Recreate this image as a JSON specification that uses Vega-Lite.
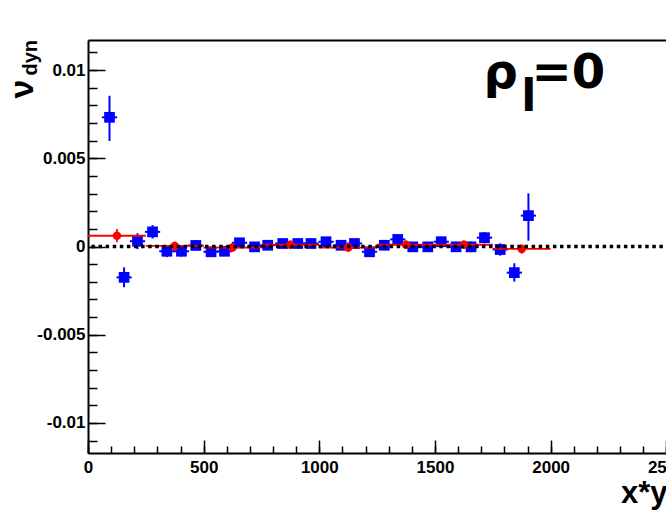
{
  "$schema": "https://vega.github.io/schema/vega-lite/v6.json",
  "width": 582,
  "height": 413,
  "autosize": {"type": "none"},
  "padding": {"left": 88, "top": 40, "right": -4, "bottom": 57},
  "background": "white",
  "view": {"stroke": "transparent", "strokeWidth": 0},
  "config": {
    "view": {"stroke": "transparent", "strokeWidth": 0},
    "axis": {
      "grid": false,
      "labelFont": "Liberation Sans",
      "labelFontWeight": "bold",
      "labelFontSize": 17,
      "labelColor": "black",
      "tickColor": "black",
      "tickWidth": 1.5,
      "domainColor": "black",
      "domainWidth": 2,
      "titleFont": "Liberation Sans",
      "titleFontWeight": "bold",
      "titleColor": "black",
      "labelFlush": false,
      "labelOverlap": false,
      "labelBound": false
    }
  },
  "datasets": {
    "blue": [
      {"x": 93, "xlo": 60, "xhi": 126, "y": 0.00732, "ylo": 0.00598, "yhi": 0.00854},
      {"x": 156, "xlo": 123, "xhi": 189, "y": -0.00175, "ylo": -0.00231, "yhi": -0.00118},
      {"x": 214, "xlo": 181, "xhi": 247, "y": 0.0003, "ylo": -0.00015, "yhi": 0.00075},
      {"x": 279, "xlo": 246, "xhi": 312, "y": 0.00083, "ylo": 0.00045, "yhi": 0.00121},
      {"x": 341, "xlo": 308, "xhi": 374, "y": -0.00027, "ylo": -0.0006, "yhi": 0.00006},
      {"x": 404, "xlo": 371, "xhi": 437, "y": -0.00027, "ylo": -0.00057, "yhi": 0.00003},
      {"x": 466, "xlo": 433, "xhi": 499, "y": 0.00006, "ylo": -0.00022, "yhi": 0.00034},
      {"x": 532, "xlo": 499, "xhi": 565, "y": -0.0003, "ylo": -0.00058, "yhi": -0.00002},
      {"x": 590, "xlo": 557, "xhi": 623, "y": -0.00027, "ylo": -0.00053, "yhi": -0.00001},
      {"x": 655, "xlo": 622, "xhi": 688, "y": 0.00021, "ylo": -0.00005, "yhi": 0.00047},
      {"x": 720, "xlo": 687, "xhi": 753, "y": -0.00002, "ylo": -0.00027, "yhi": 0.00023},
      {"x": 777, "xlo": 744, "xhi": 810, "y": 0.00007, "ylo": -0.00017, "yhi": 0.00031},
      {"x": 842, "xlo": 809, "xhi": 875, "y": 0.00017, "ylo": -0.00007, "yhi": 0.00041},
      {"x": 907, "xlo": 874, "xhi": 940, "y": 0.00017, "ylo": -0.00007, "yhi": 0.00041},
      {"x": 964, "xlo": 931, "xhi": 997, "y": 0.00017, "ylo": -0.00007, "yhi": 0.00041},
      {"x": 1029, "xlo": 996, "xhi": 1062, "y": 0.00027, "ylo": 0.00003, "yhi": 0.00051},
      {"x": 1094, "xlo": 1061, "xhi": 1127, "y": 0.00007, "ylo": -0.00017, "yhi": 0.00031},
      {"x": 1152, "xlo": 1119, "xhi": 1185, "y": 0.00017, "ylo": -0.00007, "yhi": 0.00041},
      {"x": 1217, "xlo": 1184, "xhi": 1250, "y": -0.0003, "ylo": -0.00055, "yhi": -0.00005},
      {"x": 1281, "xlo": 1248, "xhi": 1314, "y": 0.00007, "ylo": -0.00018, "yhi": 0.00032},
      {"x": 1339, "xlo": 1306, "xhi": 1372, "y": 0.0004, "ylo": 0.00014, "yhi": 0.00066},
      {"x": 1404, "xlo": 1371, "xhi": 1437, "y": -0.00002, "ylo": -0.00028, "yhi": 0.00024},
      {"x": 1469, "xlo": 1436, "xhi": 1502, "y": -0.00002, "ylo": -0.00029, "yhi": 0.00025},
      {"x": 1527, "xlo": 1494, "xhi": 1560, "y": 0.00027, "ylo": -0.00001, "yhi": 0.00055},
      {"x": 1591, "xlo": 1558, "xhi": 1624, "y": -0.00002, "ylo": -0.00031, "yhi": 0.00027},
      {"x": 1656, "xlo": 1623, "xhi": 1689, "y": -0.00002, "ylo": -0.00032, "yhi": 0.00028},
      {"x": 1714, "xlo": 1681, "xhi": 1747, "y": 0.0005, "ylo": 0.00018, "yhi": 0.00082},
      {"x": 1782, "xlo": 1749, "xhi": 1815, "y": -0.00017, "ylo": -0.00052, "yhi": 0.00018},
      {"x": 1843, "xlo": 1810, "xhi": 1876, "y": -0.00148, "ylo": -0.00199, "yhi": -0.00095},
      {"x": 1904, "xlo": 1871, "xhi": 1937, "y": 0.00175, "ylo": 0.00033, "yhi": 0.00301}
    ],
    "red": [
      {"x": 125, "xlo": 0, "xhi": 250, "y": 0.00061, "ylo": 0.00024, "yhi": 0.00099},
      {"x": 375, "xlo": 250, "xhi": 500, "y": 0.00003, "ylo": -0.00022, "yhi": 0.00028},
      {"x": 625, "xlo": 500, "xhi": 750, "y": -0.00006, "ylo": -0.0003, "yhi": 0.00018},
      {"x": 875, "xlo": 750, "xhi": 1000, "y": 0.0001, "ylo": -0.00014, "yhi": 0.00034},
      {"x": 1125, "xlo": 1000, "xhi": 1250, "y": -0.00006, "ylo": -0.0003, "yhi": 0.00018},
      {"x": 1375, "xlo": 1250, "xhi": 1500, "y": 0.0001, "ylo": -0.00014, "yhi": 0.00034},
      {"x": 1625, "xlo": 1500, "xhi": 1750, "y": 0.0001, "ylo": -0.00014, "yhi": 0.00034},
      {"x": 1875, "xlo": 1750, "xhi": 2000, "y": -0.00014, "ylo": -0.0004, "yhi": 0.00012}
    ],
    "zero": [
      {"v": 0}
    ],
    "ann": [
      {"t": "ρ", "x": 1710, "y": 0.00898},
      {"t": "=0", "x": 1917, "y": 0.00898}
    ],
    "annsub": [
      {"t": "l", "x": 1873, "y": 0.0077}
    ]
  },
  "resolve": {"axis": {"x": "independent", "y": "independent"}},
  "layer": [
    {
      "data": {"name": "blue"},
      "mark": {"type": "rule", "color": "#0000ff", "strokeWidth": 2},
      "encoding": {
        "x": {"field": "xlo", "type": "quantitative", "scale": {"domain": [0, 2516], "nice": false, "zero": false}, "axis": null},
        "x2": {"field": "xhi"},
        "y": {"field": "y", "type": "quantitative", "scale": {"domain": [-0.0117, 0.0117], "nice": false, "zero": false}, "axis": null}
      }
    },
    {
      "data": {"name": "blue"},
      "mark": {"type": "rule", "color": "#0000ff", "strokeWidth": 2},
      "encoding": {
        "x": {"field": "x", "type": "quantitative", "scale": {"domain": [0, 2516], "nice": false, "zero": false}, "axis": null},
        "y": {"field": "ylo", "type": "quantitative", "scale": {"domain": [-0.0117, 0.0117], "nice": false, "zero": false}, "axis": null},
        "y2": {"field": "yhi"}
      }
    },
    {
      "data": {"name": "blue"},
      "mark": {"type": "point", "shape": "square", "filled": true, "color": "#0000ff", "size": 115, "opacity": 1},
      "encoding": {
        "x": {"field": "x", "type": "quantitative", "scale": {"domain": [0, 2516], "nice": false, "zero": false}, "axis": null},
        "y": {"field": "y", "type": "quantitative", "scale": {"domain": [-0.0117, 0.0117], "nice": false, "zero": false},
          "axis": {"orient": "left", "labels": false, "ticks": false, "domain": false,
            "title": "ν", "titleFontSize": 34, "titleAngle": 270, "titleAlign": "left",
            "titleBaseline": "alphabetic", "titleX": -56, "titleY": 58}}
      }
    },
    {
      "data": {"name": "red"},
      "mark": {"type": "rule", "color": "#ff0000", "strokeWidth": 1.8},
      "encoding": {
        "x": {"field": "xlo", "type": "quantitative", "scale": {"domain": [0, 2516], "nice": false, "zero": false},
          "axis": {"orient": "bottom", "values": [0, 500, 1000, 1500, 2000, 2500], "tickSize": -13, "labelPadding": 19,
            "labelExpr": "toString(datum.value)", "title": "x*y", "titleFontSize": 31, "titleAnchor": "end", "titleAlign": "right",
            "titleBaseline": "alphabetic", "titleX": 579, "titleY": 49, "titleAngle": 0}},
        "x2": {"field": "xhi"},
        "y": {"field": "y", "type": "quantitative", "scale": {"domain": [-0.0117, 0.0117], "nice": false, "zero": false},
          "axis": {"orient": "left", "values": [-0.01, -0.005, 0, 0.005, 0.01], "tickSize": -17, "labelPadding": 20,
            "labelExpr": "toString(datum.value)", "title": null}}
      }
    },
    {
      "data": {"name": "red"},
      "mark": {"type": "rule", "color": "#ff0000", "strokeWidth": 1.8},
      "encoding": {
        "x": {"field": "x", "type": "quantitative", "scale": {"domain": [0, 2516], "nice": false, "zero": false},
          "axis": {"orient": "bottom", "values": [0, 100, 200, 300, 400, 500, 600, 700, 800, 900, 1000, 1100, 1200, 1300, 1400, 1500, 1600, 1700, 1800, 1900, 2000, 2100, 2200, 2300, 2400, 2500],
            "tickSize": -7, "labels": false, "domain": false, "title": null}},
        "y": {"field": "ylo", "type": "quantitative", "scale": {"domain": [-0.0117, 0.0117], "nice": false, "zero": false},
          "axis": {"orient": "left", "values": [-0.011, -0.01, -0.009, -0.008, -0.007, -0.006, -0.005, -0.004, -0.003, -0.002, -0.001, 0, 0.001, 0.002, 0.003, 0.004, 0.005, 0.006, 0.007, 0.008, 0.009, 0.01, 0.011],
            "tickSize": -9, "labels": false, "domain": false, "title": "dyn", "titleFontSize": 20, "titleAngle": 270, "titleAlign": "left",
            "titleBaseline": "alphabetic", "titleX": -52, "titleY": 35}},
        "y2": {"field": "yhi"}
      }
    },
    {
      "data": {"name": "red"},
      "mark": {"type": "point", "shape": "circle", "filled": true, "color": "#ff0000", "size": 72, "opacity": 1},
      "encoding": {
        "x": {"field": "x", "type": "quantitative", "scale": {"domain": [0, 2516], "nice": false, "zero": false},
          "axis": {"orient": "top", "ticks": false, "labels": false, "domain": true, "title": null}},
        "y": {"field": "y", "type": "quantitative", "scale": {"domain": [-0.0117, 0.0117], "nice": false, "zero": false}, "axis": null}
      }
    },
    {
      "data": {"name": "zero"},
      "mark": {"type": "rule", "color": "black", "strokeWidth": 3.3, "strokeDash": [3.5, 3.6]},
      "encoding": {
        "y": {"field": "v", "type": "quantitative", "scale": {"domain": [-0.0117, 0.0117], "nice": false, "zero": false}, "axis": null}
      }
    },
    {
      "data": {"name": "ann"},
      "mark": {"type": "text", "font": "DejaVu Sans", "fontWeight": "bold", "fontSize": 48, "align": "left", "baseline": "alphabetic", "color": "black"},
      "encoding": {
        "x": {"field": "x", "type": "quantitative", "scale": {"domain": [0, 2516], "nice": false, "zero": false}, "axis": null},
        "y": {"field": "y", "type": "quantitative", "scale": {"domain": [-0.0117, 0.0117], "nice": false, "zero": false}, "axis": null},
        "text": {"field": "t"}
      }
    },
    {
      "data": {"name": "annsub"},
      "mark": {"type": "text", "font": "DejaVu Sans", "fontWeight": "bold", "fontSize": 44, "align": "left", "baseline": "alphabetic", "color": "black"},
      "encoding": {
        "x": {"field": "x", "type": "quantitative", "scale": {"domain": [0, 2516], "nice": false, "zero": false}, "axis": null},
        "y": {"field": "y", "type": "quantitative", "scale": {"domain": [-0.0117, 0.0117], "nice": false, "zero": false}, "axis": null},
        "text": {"field": "t"}
      }
    }
  ]
}
